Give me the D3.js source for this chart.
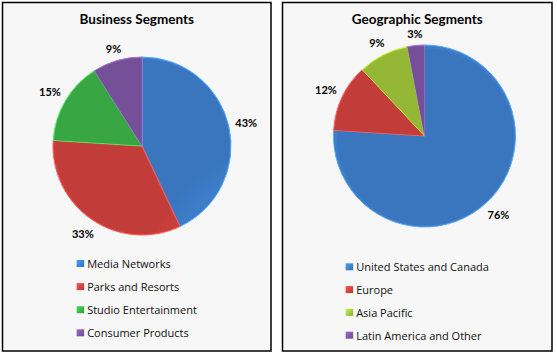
<!DOCTYPE html>
<html><head><meta charset="utf-8">
<script src="https://cdn.jsdelivr.net/npm/d3@7"></script>
<style>body{margin:0;background:#fff}</style></head>
<body>
<svg id="c" width="557" height="355"></svg>
<script>
const businessTitle = "Business Segments";
const businessCategories = ["Media Networks", "Parks and Resorts", "Studio Entertainment", "Consumer Products"];
const businessValues = [43, 33, 15, 9];
const businessColors = ["#3f83d3", "#d8443f", "#3db94b", "#8259aa"];

const geoTitle = "Geographic Segments";
const geoCategories = ["United States and Canada", "Europe", "Asia Pacific", "Latin America and Other"];
const geoValues = [76, 12, 9, 3];
const geoColors = ["#3f83d3", "#d8443f", "#a6cc3c", "#8259aa"];

const svg = d3.select("#c");
const defs = svg.append("defs");

const panels = [
  {id: "b", title: businessTitle, cats: businessCategories, vals: businessValues, colors: businessColors,
   x0: 2.5, x1: 271, cx: 142, cy: 146, r: 89, legY: 263.5, legStep: 23.1},
  {id: "g", title: geoTitle, cats: geoCategories, vals: geoValues, colors: geoColors,
   x0: 282.5, x1: 552, cx: 424.5, cy: 136, r: 91, legY: 266.8, legStep: 22.8}
];

panels.forEach(p => {
  const g = svg.append("g");
  g.append("rect").attr("x", p.x0).attr("y", 2.5).attr("width", p.x1 - p.x0).attr("height", 348.5)
    .attr("fill", "#f7f7f7").attr("stroke", "#000").attr("stroke-width", 1.5);
  const mid = (p.x0 + p.x1) / 2;
  g.append("text").attr("x", mid).attr("y", 24).attr("text-anchor", "middle")
    .attr("font-family", "Lato, 'Open Sans', sans-serif").attr("font-weight", "bold").attr("font-size", 13.5)
    .attr("fill", "#000").text(p.title);

  // gradients
  p.colors.forEach((c, i) => {
    const rg = defs.append("radialGradient").attr("id", `rg-${p.id}-${i}`)
      .attr("gradientUnits", "userSpaceOnUse").attr("cx", p.cx - p.r * 0.2).attr("cy", p.cy - p.r * 0.25)
      .attr("r", p.r * 1.3);
    rg.append("stop").attr("offset", 0).attr("stop-color", d3.color(c).brighter(0.15));
    rg.append("stop").attr("offset", 0.65).attr("stop-color", c);
    rg.append("stop").attr("offset", 1).attr("stop-color", d3.color(c).darker(0.3));
    const lg = defs.append("linearGradient").attr("id", `lg-${p.id}-${i}`)
      .attr("x1", 0).attr("y1", 0).attr("x2", 1).attr("y2", 1);
    lg.append("stop").attr("offset", 0).attr("stop-color", d3.color(c).brighter(0.5));
    lg.append("stop").attr("offset", 1).attr("stop-color", d3.color(c).darker(0.5));
  });

  const pie = d3.pie().sort(null).value(d => d)(p.vals);
  const arc = d3.arc().innerRadius(0).outerRadius(p.r);
  const arcInner = d3.arc().innerRadius(0).outerRadius(p.r - 2.5);
  const pg = g.append("g").attr("transform", `translate(${p.cx},${p.cy})`);
  pg.selectAll("path.s").data(pie).join("path").attr("class", "s")
    .attr("d", arc).attr("fill", (d, i) => d3.color(p.colors[i]).darker(0.15))
    .attr("stroke", (d, i) => d3.color(p.colors[i]).brighter(0.7)).attr("stroke-width", 1)
    .attr("stroke-linejoin", "round");
  pg.selectAll("path.i").data(pie).join("path").attr("class", "i")
    .attr("d", arcInner).attr("fill", (d, i) => `url(#rg-${p.id}-${i})`)
    .attr("transform", d => {
      const a = (d.startAngle + d.endAngle) / 2;
      return `translate(${Math.sin(a) * 1.2},${-Math.cos(a) * 1.2})`;
    });

  // percent labels
  const fmt = d => Math.round(d.value) + "%";
  pie.forEach(d => {
    const a = (d.startAngle + d.endAngle) / 2;
    const dx = Math.sin(a), dy = -Math.cos(a);
    const t = pg.append("text").attr("text-anchor", "middle").attr("dominant-baseline", "central")
      .attr("font-family", "Lato, 'Open Sans', sans-serif").attr("font-weight", "bold").attr("font-size", 11)
      .attr("fill", "#000").text(fmt(d));
    const bb = t.node().getBBox();
    const dist = p.r + 6 + Math.abs(dx) * bb.width / 2 + Math.abs(dy) * 5;
    t.attr("x", dx * dist).attr("y", dy * dist);
  });

  // legend
  const lg = g.append("g");
  const items = lg.selectAll("g").data(p.cats).join("g")
    .attr("transform", (d, i) => `translate(0,${p.legY + i * p.legStep})`);
  items.append("rect").attr("x", 0).attr("y", -3.5).attr("width", 7.5).attr("height", 7)
    .attr("fill", (d, i) => `url(#lg-${p.id}-${i})`);
  items.append("text").attr("x", 10.5).attr("y", 0).attr("dominant-baseline", "central")
    .attr("font-family", "'Open Sans', sans-serif").attr("font-size", 11).attr("fill", "#111").text(d => d);
  const w = d3.max(items.selectAll("text").nodes(), n => n.getComputedTextLength()) + 10.5;
  lg.attr("transform", `translate(${mid - w / 2},0)`);
});
</script>
</body></html>
